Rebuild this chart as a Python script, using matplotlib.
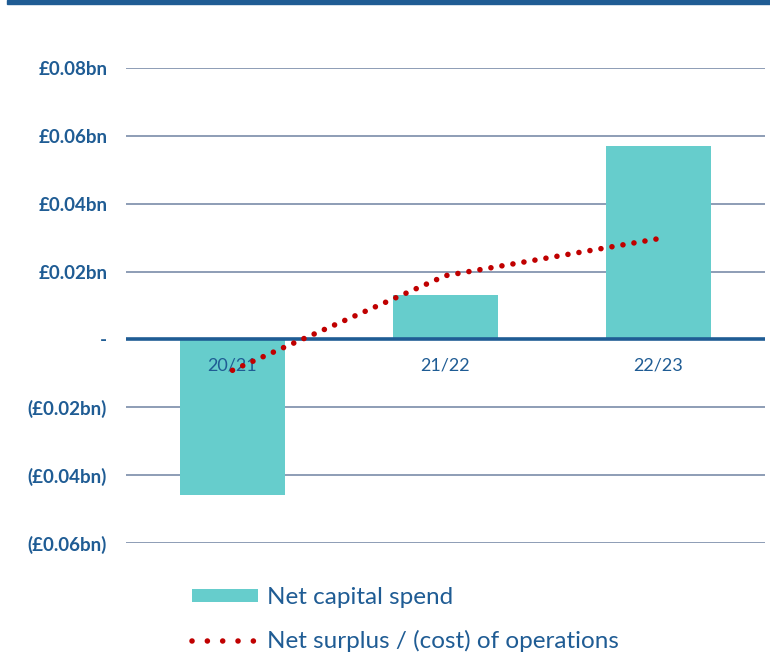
import matplotlib
matplotlib.use("Agg")
import matplotlib.pyplot as plt
from matplotlib.lines import Line2D
from matplotlib.patches import Patch, Rectangle
from matplotlib.transforms import offset_copy

YEARS       = ["20/21", "21/22", "22/23"]
CAPITAL     = [-0.0459, 0.0132, 0.0571]
SURPLUS     = [-0.0091, 0.0188, 0.0297]
TICKS       = [0.08, 0.06, 0.04, 0.02, 0.0, -0.02, -0.04, -0.06]
TICK_LABELS = ["£0.08bn", "£0.06bn", "£0.04bn", "£0.02bn", "-",
               "(£0.02bn)", "(£0.04bn)", "(£0.06bn)"]

BLUE  = "#1f5c94"
TEAL  = "#66cdcc"
RED   = "#c00000"
GRID  = "#8d9db6"

plt.rcParams["font.family"] = ["Lato", "DejaVu Sans"]

fig = plt.figure(figsize=(7.7, 6.64), dpi=100)
ax = fig.add_axes([126 / 770, 1 - 543 / 664, (765 - 126) / 770, (543 - 68) / 664])

x = range(len(YEARS))
ax.bar(x, CAPITAL, width=0.49, color=TEAL, zorder=2)
ax.plot(x, SURPLUS, color=RED, linewidth=4, linestyle=(0, (0.01, 2.0)),
        dash_capstyle="round", zorder=5, clip_on=False)

for t in TICKS:
    if t == 0:
        ax.axhline(0, color=BLUE, linewidth=2.6, zorder=3)
    else:
        ax.axhline(t, color=GRID, linewidth=1.4, zorder=1)

ax.set_xlim(-0.5, 2.5)
ax.set_ylim(-0.06, 0.08)
ax.set_yticks(TICKS)
ax.set_yticklabels(TICK_LABELS, fontsize=13.5, fontweight="bold", color=BLUE)
ax.tick_params(axis="y", length=0, pad=13.5)
ax.set_xticks([])
for s in ax.spines.values():
    s.set_visible(False)

lab_tr = offset_copy(ax.transData, fig=fig, x=0, y=-19, units="points")
for i, yr in enumerate(YEARS):
    ax.text(i, 0, yr, transform=lab_tr, ha="center", va="center",
            fontsize=13, color=BLUE, zorder=4)

# dark band across the top
fig.patches.append(Rectangle((7 / 770, 1 - 4 / 664), 1, 4 / 664,
                             transform=fig.transFigure, color=BLUE, zorder=0))

handles = [
    Patch(facecolor=TEAL, edgecolor="none"),
    Line2D([0], [0], color=RED, linewidth=4, linestyle=(0, (0.01, 2.75)),
           dash_capstyle="round"),
]
leg = fig.legend(handles, ["Net capital spend", "Net surplus / (cost) of operations"],
                 loc="upper left", bbox_to_anchor=(192 / 770, 1 - 587 / 664),
                 frameon=False, fontsize=17.5, handlelength=2.7,
                 handleheight=0.46, handletextpad=0.4, labelspacing=0.92,
                 borderpad=0, borderaxespad=0)
for txt in leg.get_texts():
    txt.set_color(BLUE)

fig.savefig("out.png", dpi=100)
